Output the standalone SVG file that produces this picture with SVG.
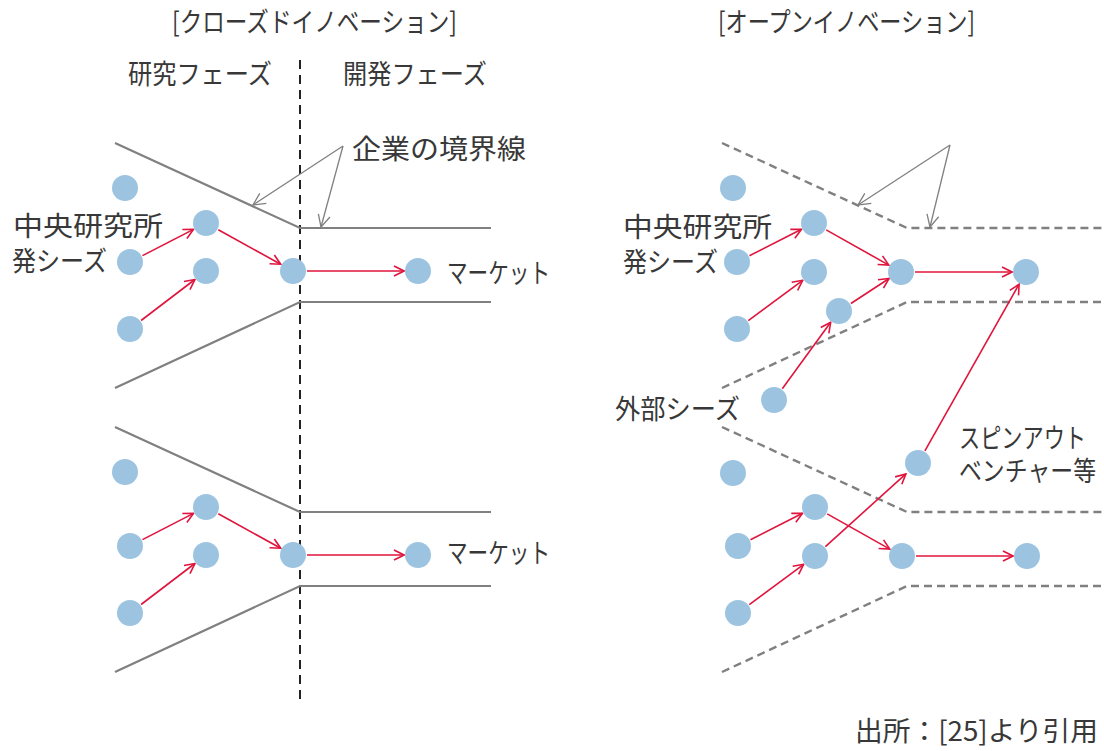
<svg xmlns="http://www.w3.org/2000/svg" width="1104" height="751" viewBox="0 0 1104 751">
<style>
text{font-family:"Noto Sans CJK JP","Noto Sans",sans-serif;font-size:27px;fill:#383838;}
.nd{fill:#9cc4e1;}
.flow{stroke:#e0143c;stroke-width:1.6;fill:none;marker-end:url(#ra);}
.bd{stroke:#808080;stroke-width:2.2;fill:none;}
.bdd{stroke:#808080;stroke-width:2.4;fill:none;stroke-dasharray:8 5;}
.ann{stroke:#808080;stroke-width:1.3;fill:none;marker-end:url(#ga);}
</style>
<defs>
<marker id="ra" viewBox="0 0 12 12" refX="11" refY="6" markerWidth="12" markerHeight="12" markerUnits="userSpaceOnUse" orient="auto">
<path d="M1,1 L11,6 L1,11" fill="none" stroke="#e0143c" stroke-width="1.6"/>
</marker>
<marker id="ga" viewBox="0 0 14 14" refX="13" refY="7" markerWidth="14" markerHeight="14" markerUnits="userSpaceOnUse" orient="auto">
<path d="M1,1 L13,7 L1,13" fill="none" stroke="#808080" stroke-width="1.3"/>
</marker>
</defs>
<rect width="1104" height="751" fill="#ffffff"/>

<g id="titles">
<text x="172" y="32" textLength="285" lengthAdjust="spacingAndGlyphs">[クローズドイノベーション]</text>
<text x="718" y="32" textLength="257" lengthAdjust="spacingAndGlyphs">[オープンイノベーション]</text>
<text x="128" y="84" textLength="144" lengthAdjust="spacingAndGlyphs">研究フェーズ</text>
<text x="343" y="84" textLength="144" lengthAdjust="spacingAndGlyphs">開発フェーズ</text>
<text x="352" y="159" textLength="174" lengthAdjust="spacingAndGlyphs">企業の境界線</text>
<text x="855" y="741" font-size="25" textLength="243" lengthAdjust="spacingAndGlyphs">出所：[25]より引用</text>
</g>

<g id="boundaries">
<line x1="300" y1="60" x2="300" y2="700" stroke="#222" stroke-width="2" stroke-dasharray="9 6"/>
<polyline class="bd" points="115,143 300,228 491,228"/>
<polyline class="bd" points="115,388 300,302 491,302"/>
<polyline class="bd" points="115,427 300,512 491,512"/>
<polyline class="bd" points="115,672 300,586 491,586"/>
<polyline class="bdd" points="722,143 907,228 1104,228"/>
<polyline class="bdd" points="722,388 907,302 1104,302"/>
<polyline class="bdd" points="722,427 907,512 1104,512"/>
<polyline class="bdd" points="722,672 907,586 1104,586"/>
</g>

<g id="connectors">
<line class="ann" x1="343" y1="146" x2="253" y2="205"/>
<line class="ann" x1="343" y1="146" x2="321" y2="227"/>
<line class="ann" x1="950" y1="145" x2="858" y2="205"/>
<line class="ann" x1="950" y1="145" x2="930" y2="227"/>

<line class="flow" x1="142.5" y1="255.6" x2="193.5" y2="229.4"/>
<line class="flow" x1="141.1" y1="320.5" x2="194.9" y2="279.5"/>
<line class="flow" x1="218.3" y1="229.8" x2="280.7" y2="264.2"/>
<line class="flow" x1="307" y1="271" x2="404" y2="271"/>

<line class="flow" x1="142.5" y1="539.6" x2="193.5" y2="513.4"/>
<line class="flow" x1="141.1" y1="604.5" x2="194.9" y2="563.5"/>
<line class="flow" x1="218.3" y1="513.8" x2="280.7" y2="548.2"/>
<line class="flow" x1="307" y1="555" x2="404" y2="555"/>

<line class="flow" x1="749.5" y1="255.7" x2="801.5" y2="229.3"/>
<line class="flow" x1="826.2" y1="229.9" x2="888.8" y2="265.1"/>
<line class="flow" x1="748.3" y1="320.7" x2="802.7" y2="280.3"/>
<line class="flow" x1="850.9" y1="303.5" x2="889.1" y2="278.5"/>
<line class="flow" x1="782.3" y1="388.7" x2="830.7" y2="322.3"/>
<line class="flow" x1="915" y1="272" x2="1012" y2="272"/>

<line class="flow" x1="750.5" y1="539.7" x2="802.5" y2="513.3"/>
<line class="flow" x1="827.2" y1="513.9" x2="889.8" y2="549.1"/>
<line class="flow" x1="749.3" y1="604.7" x2="803.7" y2="564.3"/>
<line class="flow" x1="825.4" y1="546.6" x2="905.9" y2="473.9"/>
<line class="flow" x1="916" y1="556" x2="1013" y2="556"/>
<line class="flow" x1="924.9" y1="450.8" x2="1019.1" y2="284.2"/>
</g>

<g id="closed-top">
<circle class="nd" cx="125" cy="188" r="13"/>
<circle class="nd" cx="130" cy="262" r="13"/>
<circle class="nd" cx="130" cy="329" r="13"/>
<circle class="nd" cx="206" cy="223" r="13"/>
<circle class="nd" cx="206" cy="271" r="13"/>
<circle class="nd" cx="293" cy="271" r="13"/>
<circle class="nd" cx="418" cy="271" r="13"/>
<text x="13" y="236" textLength="150" lengthAdjust="spacingAndGlyphs">中央研究所</text>
<text x="12" y="271" textLength="95" lengthAdjust="spacingAndGlyphs">発シーズ</text>
<text x="447" y="283" textLength="103" lengthAdjust="spacingAndGlyphs">マーケット</text>
</g>

<g id="closed-bottom">
<circle class="nd" cx="125" cy="472" r="13"/>
<circle class="nd" cx="130" cy="546" r="13"/>
<circle class="nd" cx="130" cy="613" r="13"/>
<circle class="nd" cx="206" cy="507" r="13"/>
<circle class="nd" cx="206" cy="555" r="13"/>
<circle class="nd" cx="293" cy="555" r="13"/>
<circle class="nd" cx="418" cy="555" r="13"/>
<text x="447" y="563" textLength="103" lengthAdjust="spacingAndGlyphs">マーケット</text>
</g>

<g id="open-top">
<circle class="nd" cx="733" cy="188" r="13"/>
<circle class="nd" cx="737" cy="262" r="13"/>
<circle class="nd" cx="737" cy="329" r="13"/>
<circle class="nd" cx="814" cy="223" r="13"/>
<circle class="nd" cx="814" cy="272" r="13"/>
<circle class="nd" cx="839" cy="311" r="13"/>
<circle class="nd" cx="901" cy="272" r="13"/>
<circle class="nd" cx="1026" cy="272" r="13"/>
<circle class="nd" cx="774" cy="400" r="13"/>
<text x="623" y="237" textLength="149" lengthAdjust="spacingAndGlyphs">中央研究所</text>
<text x="623" y="272" textLength="95" lengthAdjust="spacingAndGlyphs">発シーズ</text>
<text x="615" y="419" textLength="125" lengthAdjust="spacingAndGlyphs">外部シーズ</text>
</g>

<g id="open-bottom">
<circle class="nd" cx="733" cy="473" r="13"/>
<circle class="nd" cx="738" cy="546" r="13"/>
<circle class="nd" cx="738" cy="613" r="13"/>
<circle class="nd" cx="815" cy="507" r="13"/>
<circle class="nd" cx="815" cy="556" r="13"/>
<circle class="nd" cx="902" cy="556" r="13"/>
<circle class="nd" cx="1027" cy="556" r="13"/>
<circle class="nd" cx="918" cy="463" r="13"/>
<text x="959" y="448" textLength="127" lengthAdjust="spacingAndGlyphs">スピンアウト</text>
<text x="959" y="481" textLength="137" lengthAdjust="spacingAndGlyphs">ベンチャー等</text>
</g>
</svg>
